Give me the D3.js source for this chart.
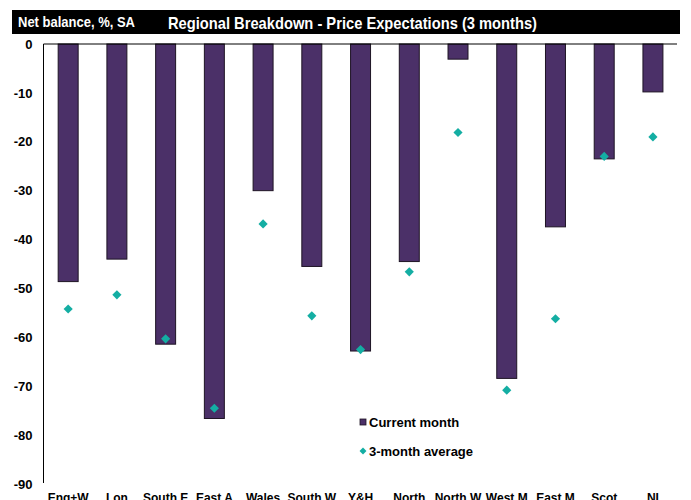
<!DOCTYPE html>
<html>
<head>
<meta charset="utf-8">
<script src="https://cdn.jsdelivr.net/npm/d3@7/dist/d3.min.js"></script>
<style>
  html, body { margin: 0; padding: 0; background: #fff; }
  svg { display: block; font-family: "Liberation Sans", Arial, sans-serif; }
</style>
</head>
<body>
<svg id="chart" width="691" height="500"></svg>
<script>
// Regions, in display order
const categories = ["Eng+W", "Lon", "South E", "East A", "Wales", "South W", "Y&H",
                    "North", "North W", "West M", "East M", "Scot", "NI"];
// Net balance, %, seasonally adjusted
const currentMonth = [-48.6, -44.0, -61.4, -76.6, -30.0, -45.5, -62.8,
                      -44.5, -3.1, -68.4, -37.4, -23.5, -9.8];
const threeMonthAvg = [-54.2, -51.3, -60.3, -74.5, -36.8, -55.6, -62.5,
                       -46.6, -18.1, -70.8, -56.2, -23.0, -19.0];
const yTicks = [0, -10, -20, -30, -40, -50, -60, -70, -80, -90];

const BAR_COLOR = "#4b3068";
const BAR_EDGE = "#1e1424";
const DOT_COLOR = "#14aea3";

const svg = d3.select("#chart");

// Header band (condensed bold lettering)
svg.append("rect")
  .attr("x", 12).attr("y", 10).attr("width", 668).attr("height", 24)
  .attr("fill", "#000");
svg.append("text")
  .attr("x", 18).attr("y", 27)
  .attr("fill", "#fff").attr("font-size", 15).attr("font-weight", "bold")
  .attr("textLength", 117).attr("lengthAdjust", "spacingAndGlyphs")
  .text("Net balance, %, SA");
svg.append("text")
  .attr("x", 168).attr("y", 28.5)
  .attr("fill", "#fff").attr("font-size", 17).attr("font-weight", "bold")
  .attr("textLength", 369).attr("lengthAdjust", "spacingAndGlyphs")
  .text("Regional Breakdown - Price Expectations (3 months)");

// Scales
const x = d3.scaleBand().domain(categories).range([43.8, 677.3]).padding(0);
const y = d3.scaleLinear().domain([-90, 0]).range([484, 44]);
const barW = x.bandwidth() * 0.41;

// Bars
svg.append("g").selectAll("rect")
  .data(categories)
  .join("rect")
  .attr("x", (d) => x(d) + (x.bandwidth() - barW) / 2)
  .attr("y", y(0))
  .attr("width", barW)
  .attr("height", (d, i) => y(currentMonth[i]) - y(0))
  .attr("fill", BAR_COLOR)
  .attr("stroke", BAR_EDGE)
  .attr("stroke-width", 1);

// 3-month average markers
const diamond = d3.symbol().type(d3.symbolSquare).size(42);
svg.append("g").selectAll("path")
  .data(categories)
  .join("path")
  .attr("d", diamond)
  .attr("transform", (d, i) =>
    `translate(${x(d) + x.bandwidth() / 2},${y(threeMonthAvg[i])}) rotate(45)`)
  .attr("fill", DOT_COLOR);

// Y axis
const yAxis = d3.axisLeft(y).tickValues(yTicks).tickSize(0).tickPadding(11)
  .tickFormat((d) => String(d));
const gy = svg.append("g").attr("transform", "translate(43.5,0)").call(yAxis);
gy.select(".domain").attr("stroke", "#000").attr("stroke-width", 1).attr("d", "M0,44V483");
gy.selectAll("text").attr("font-size", 13).attr("font-weight", "bold")
  .attr("fill", "#000").attr("font-family", "Liberation Sans, Arial, sans-serif");

// Zero line with category labels below the plot
const xAxis = d3.axisBottom(x).tickSize(0).tickPadding(0);
const gx = svg.append("g").attr("transform", `translate(0,${y(0)})`).call(xAxis);
gx.select(".domain").attr("stroke", "#000").attr("stroke-width", 1)
  .attr("d", "M43.5,0H677");
gx.selectAll("text")
  .attr("y", 502 - y(0)).attr("dy", 0)
  .attr("font-size", 12).attr("font-weight", "bold")
  .attr("fill", "#000").attr("font-family", "Liberation Sans, Arial, sans-serif");

// Legend
const legend = svg.append("g");
legend.append("rect")
  .attr("x", 360).attr("y", 419).attr("width", 6).attr("height", 6)
  .attr("fill", BAR_COLOR).attr("stroke", BAR_EDGE).attr("stroke-width", 0.8);
legend.append("text")
  .attr("x", 369).attr("y", 427)
  .attr("font-size", 13).attr("font-weight", "bold").attr("fill", "#000")
  .text("Current month");
legend.append("path")
  .attr("d", d3.symbol().type(d3.symbolSquare).size(24))
  .attr("transform", "translate(363,451) rotate(45)")
  .attr("fill", DOT_COLOR);
legend.append("text")
  .attr("x", 369).attr("y", 456)
  .attr("font-size", 13).attr("font-weight", "bold").attr("fill", "#000")
  .text("3-month average");
</script>
</body>
</html>
